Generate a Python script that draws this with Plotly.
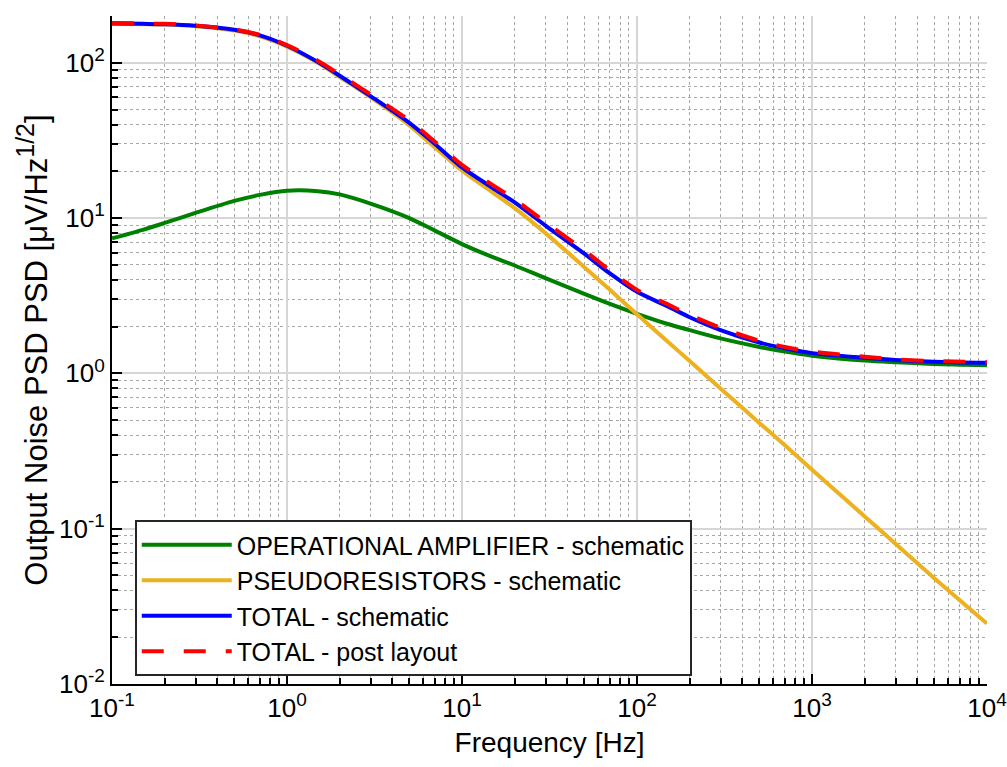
import plotly.graph_objects as go

# Frequency points [Hz]
freq = [0.1, 0.15, 0.2, 0.3, 0.5, 0.7, 1, 1.5, 2, 3, 5, 7, 10, 15, 20, 30, 50, 70,
        100, 150, 200, 300, 500, 700, 1000, 2000, 3000, 5000, 10000]

# Output noise PSD [uV/Hz^1/2]
opamp = [7.4, 8.4, 9.3, 10.8, 12.9, 14.1, 15.0, 14.9, 14.2, 12.4, 10.0, 8.3, 6.8, 5.6,
         4.95, 4.1, 3.25, 2.8, 2.42, 2.08, 1.9, 1.68, 1.48, 1.38, 1.3, 1.21, 1.18,
         1.15, 1.13]
pseudo = [178, 177, 176, 172, 161, 148, 127, 100, 81, 60, 39.5, 28.5, 20.2, 14.6,
          11.6, 8.0, 4.83, 3.45, 2.4, 1.6, 1.2, 0.8, 0.48, 0.345, 0.24, 0.12, 0.08,
          0.048, 0.0245]
total_sch = [179, 178, 177, 173, 163, 150, 128.6, 101, 82.5, 61, 41, 30, 21.2, 15.6,
             12.6, 8.95, 5.9, 4.4, 3.35, 2.7, 2.3, 1.9, 1.58, 1.45, 1.35, 1.26, 1.22,
             1.19, 1.17]
total_post = [180, 179, 178, 174, 164, 151, 130, 103, 84, 62.5, 42.5, 31, 22, 16.3,
              13.2, 9.4, 6.2, 4.6, 3.45, 2.78, 2.38, 1.97, 1.62, 1.48, 1.38, 1.28,
              1.23, 1.2, 1.18]

names = ["OPERATIONAL AMPLIFIER - schematic", "PSEUDORESISTORS - schematic",
         "TOTAL - schematic", "TOTAL - post layout"]
colors = ["#008000", "#EDB120", "#0000FF", "#FF0000"]

x_exps = [-1, 0, 1, 2, 3, 4]
y_exps = [-2, -1, 0, 1, 2]


def pow_label(e):
    return "10<sup><span style='font-size:19px'>%d</span></sup>" % e


x_major = [10.0 ** e for e in x_exps]
x_major_text = [pow_label(e) for e in x_exps]
y_major = [10.0 ** e for e in y_exps]
y_major_text = [pow_label(e) for e in y_exps]

x_minor = [m * 10 ** e for e in range(-1, 4) for m in range(2, 10)]
y_minor = [m * 10 ** e for e in range(-2, 3) for m in range(2, 10) if m * 10 ** e <= 200]

fig = go.Figure()
series = [opamp, pseudo, total_sch, total_post]
for i, (ys, nm, c) in enumerate(zip(series, names, colors)):
    fig.add_trace(go.Scatter(
        x=freq, y=ys, name=nm, mode="lines", legendgroup=str(i),
        line=dict(color=c, width=4, shape="spline", smoothing=0.8,
                  dash="22px,20px" if i == 3 else "solid"),
    ))

font = "Liberation Sans, Arial, sans-serif"
axis_common = dict(
    type="log", showline=True, linecolor="black", linewidth=2, mirror=False,
    ticks="inside", ticklen=10, tickwidth=1.5, tickcolor="black",
    showgrid=True, gridcolor="#d6d6d6", gridwidth=1.5, zeroline=False,
    tickfont=dict(family=font, size=26, color="black"),
    ticklabeloverflow="allow", automargin=False,
)
fig.update_xaxes(
    **axis_common, range=[-1, 4], tickmode="array", tickvals=x_major, ticktext=x_major_text,
    minor=dict(tickmode="array", tickvals=x_minor, ticks="inside", ticklen=6,
               tickcolor="black", showgrid=True, gridcolor="#a8a8a8", griddash="dot",
               gridwidth=1),
    title=dict(text="Frequency [Hz]", font=dict(family=font, size=28, color="black"),
               standoff=10),
)
fig.update_yaxes(
    **axis_common, range=[-2, 2.30103], tickmode="array", tickvals=y_major, ticktext=y_major_text,
    minor=dict(tickmode="array", tickvals=y_minor, ticks="inside", ticklen=6,
               tickcolor="black", showgrid=True, gridcolor="#a8a8a8", griddash="dot",
               gridwidth=1),
    title=dict(text="Output Noise PSD PSD [μV/Hz<sup><span style='font-size:25px'>1/2</span></sup>]",
               font=dict(family=font, size=31, color="black"), standoff=2),
)
fig.update_layout(
    width=1007, height=767,
    margin=dict(l=112, r=20, t=16, b=83),
    plot_bgcolor="white", paper_bgcolor="white",
    font=dict(family=font, color="black"),
    legend=dict(x=0.026, y=0.2455, xanchor="left", yanchor="top",
                bgcolor="white", bordercolor="#262626", borderwidth=2,
                font=dict(family=font, size=25, color="black"),
                itemwidth=90, tracegroupgap=0),
)
fig.write_html("out.html")
